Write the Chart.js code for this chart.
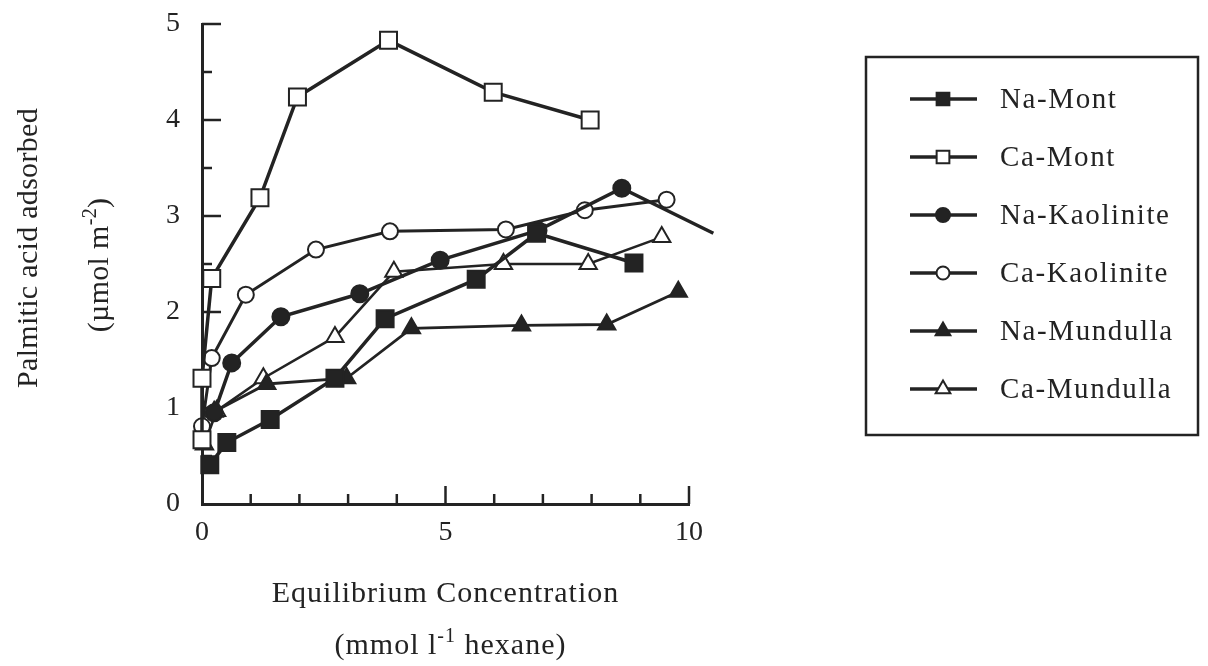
<!DOCTYPE html>
<html>
<head>
<meta charset="utf-8">
<title>Palmitic acid adsorbed</title>
<script src="https://cdn.jsdelivr.net/npm/chart.js@4.4.1/dist/chart.umd.min.js"></script>
<style>
    html, body { margin: 0; padding: 0; background: #fff; }
</style>
</head>
<body>
<canvas id="adsorcionChart" width="1208" height="666"></canvas>
<script>
// Series y valores (concentración de equilibrio vs. ácido adsorbido)
const nombresSeries = ['Na-Mont', 'Ca-Mont', 'Na-Kaolinite', 'Ca-Kaolinite', 'Na-Mundulla', 'Ca-Mundulla'];

const naMontX = [0.16, 0.51, 1.40, 2.73, 3.76, 5.63, 6.87, 8.87];
const naMontY = [0.41, 0.64, 0.88, 1.31, 1.93, 2.34, 2.82, 2.51];

const caMontX = [0.0, 0.0, 0.2, 1.19, 1.96, 3.83, 5.98, 7.97];
const caMontY = [0.67, 1.31, 2.35, 3.19, 4.24, 4.83, 4.29, 4.00];

const naKaolX = [0.25, 0.61, 1.62, 3.24, 4.89, 6.90, 8.62, 10.50];
const naKaolY = [0.95, 1.47, 1.95, 2.19, 2.54, 2.85, 3.29, 2.82];

const caKaolX = [0.0, 0.2, 0.9, 2.34, 3.86, 6.24, 7.86, 9.54];
const caKaolY = [0.81, 1.52, 2.18, 2.65, 2.84, 2.86, 3.06, 3.17];

const naMundX = [0.25, 1.33, 2.97, 4.30, 6.56, 8.31, 9.78];
const naMundY = [0.96, 1.25, 1.31, 1.83, 1.86, 1.87, 2.21];

const caMundX = [0.05, 0.30, 1.26, 2.73, 3.94, 6.19, 7.93, 9.44];
const caMundY = [0.62, 0.97, 1.31, 1.74, 2.42, 2.50, 2.50, 2.78];

const xTicks = [0, 5, 10];
const yTicks = [0, 1, 2, 3, 4, 5];

const datosX = [naMontX, caMontX, naKaolX, caKaolX, naMundX, caMundX];
const datosY = [naMontY, caMontY, naKaolY, caKaolY, naMundY, caMundY];

const FUENTE = '"Liberation Serif", "Times New Roman", serif';
const NEGRO = '#232323';

// Estilo de marcador de cada serie (relleno = sodio, hueco = calcio)
const marcadores = [
    { forma: 'rect', radio: 12, relleno: NEGRO, legenda: 9 },
    { forma: 'rect', radio: 12, relleno: '#fff', legenda: 9 },
    { forma: 'circle', radio: 8.5, relleno: NEGRO, legenda: 7 },
    { forma: 'circle', radio: 8, relleno: '#fff', legenda: 6.5 },
    { forma: 'triangle', radio: 10, relleno: NEGRO, legenda: 8.5 },
    { forma: 'triangle', radio: 10, relleno: '#fff', legenda: 8.5 }
];
const grosorLinea = [3.5, 3.5, 3.5, 3, 2.8, 2.6];

function puntos(xs, ys) {
    return xs.map(function(x, i) { return { x: x, y: ys[i] }; });
}

function dibujarMarcador(ctx, forma, x, y, r) {
    ctx.beginPath();
    if (forma === 'rect') {
        const h = r * Math.SQRT1_2;
        ctx.rect(x - h, y - h, 2 * h, 2 * h);
    } else if (forma === 'circle') {
        ctx.arc(x, y, r, 0, Math.PI * 2);
    } else {
        ctx.moveTo(x, y - r);
        ctx.lineTo(x + r * 0.866, y + r / 2);
        ctx.lineTo(x - r * 0.866, y + r / 2);
        ctx.closePath();
    }
    ctx.fill();
    ctx.stroke();
}

// Texto centrado con exponente: partes = [[texto, esExponente], ...]
function textoConExponente(ctx, partes, x, y, tam, tamExp, subida) {
    let total = 0;
    partes.forEach(function(p) {
        ctx.font = (p[1] ? tamExp : tam) + 'px ' + FUENTE;
        total += ctx.measureText(p[0]).width;
    });
    let cx = x - total / 2;
    partes.forEach(function(p) {
        ctx.font = (p[1] ? tamExp : tam) + 'px ' + FUENTE;
        ctx.fillText(p[0], cx, p[1] ? y - subida : y);
        cx += ctx.measureText(p[0]).width;
    });
}

// Marcas de los ejes hacia dentro del área del gráfico
const marcasEjes = {
    id: 'marcasEjes',
    beforeDatasetsDraw(chart) {
        const ctx = chart.ctx;
        const xs = chart.scales.x;
        const ys = chart.scales.y;
        ctx.save();
        ctx.strokeStyle = NEGRO;
        ctx.lineWidth = 2.5;
        for (let v = 0.5; v <= 5; v += 0.5) {
            const py = ys.getPixelForValue(v);
            const largo = Number.isInteger(v) ? 19 : 10;
            ctx.beginPath();
            ctx.moveTo(xs.left, py);
            ctx.lineTo(xs.left + largo, py);
            ctx.stroke();
        }
        for (let v = 1; v <= 10; v++) {
            const px = xs.getPixelForValue(v);
            const largo = v % 5 === 0 ? 18 : 10;
            ctx.beginPath();
            ctx.moveTo(px, ys.bottom);
            ctx.lineTo(px, ys.bottom - largo);
            ctx.stroke();
        }
        ctx.restore();
    }
};

// Títulos de ejes y leyenda con recuadro
const textosExtra = {
    id: 'textosExtra',
    afterDraw(chart) {
        const ctx = chart.ctx;
        const area = chart.chartArea;
        const centroX = (area.left + area.right) / 2;
        ctx.save();
        ctx.fillStyle = NEGRO;
        ctx.textBaseline = 'alphabetic';
        ctx.textAlign = 'left';

        // Eje X
        ctx.letterSpacing = '1px';
        textoConExponente(ctx, [['Equilibrium Concentration', false]], centroX, 602, 30, 20, 0);
        textoConExponente(ctx, [['(mmol l', false], ['-1', true], [' hexane)', false]], centroX + 5, 654, 30, 20, 12);

        // Eje Y (texto girado)
        ctx.letterSpacing = '0.3px';
        ctx.save();
        ctx.translate(37, 248);
        ctx.rotate(-Math.PI / 2);
        textoConExponente(ctx, [['Palmitic acid adsorbed', false]], 0, 0, 30, 20, 0);
        ctx.restore();
        ctx.save();
        ctx.translate(108, 265);
        ctx.rotate(-Math.PI / 2);
        textoConExponente(ctx, [['(\u00b5mol m', false], ['-2', true], [')', false]], 0, 0, 30, 20, 12);
        ctx.restore();

        // Leyenda
        ctx.strokeStyle = NEGRO;
        ctx.lineWidth = 2.5;
        ctx.strokeRect(866, 57, 332, 378);
        ctx.letterSpacing = '1.6px';
        ctx.font = '29px ' + FUENTE;
        ctx.textBaseline = 'middle';
        nombresSeries.forEach(function(nombre, i) {
            const y = 99 + 58 * i;
            const m = marcadores[i];
            ctx.lineWidth = 3.5;
            ctx.beginPath();
            ctx.moveTo(910, y);
            ctx.lineTo(977, y);
            ctx.stroke();
            ctx.lineWidth = 2;
            ctx.fillStyle = m.relleno;
            dibujarMarcador(ctx, m.forma, 943, y, m.legenda);
            ctx.fillStyle = NEGRO;
            ctx.fillText(nombre, 1000, y + 1);
        });
        ctx.restore();
    }
};

const ctx = document.getElementById('adsorcionChart').getContext('2d');

const adsorcionChart = new Chart(ctx, {
    type: 'scatter',
    data: {
        datasets: nombresSeries.map(function(nombre, i) {
            return {
                label: nombre,
                data: puntos(datosX[i], datosY[i]),
                showLine: true,
                clip: false,
                borderColor: NEGRO,
                borderWidth: grosorLinea[i],
                tension: 0,
                pointStyle: marcadores[i].forma,
                pointRadius: marcadores[i].radio,
                pointBackgroundColor: marcadores[i].relleno,
                pointBorderColor: NEGRO,
                pointBorderWidth: 2
            };
        })
    },
    options: {
        responsive: false,
        animation: false,
        layout: {
            padding: { left: 0, right: 519, top: 24, bottom: 0 }
        },
        plugins: {
            legend: { display: false },
            tooltip: { enabled: false }
        },
        scales: {
            x: {
                type: 'linear',
                min: 0,
                max: 10,
                afterBuildTicks: function(scale) {
                    scale.ticks = xTicks.map(function(v) { return { value: v }; });
                },
                afterFit: function(scale) {
                    // alto fijo para que el área del gráfico termine en y = 504
                    scale.height = 162;
                    scale.paddingLeft = 0;
                    scale.paddingRight = 0;
                },
                grid: { display: false, drawTicks: false },
                border: { display: true, color: NEGRO, width: 3 },
                ticks: {
                    font: { family: FUENTE, size: 28 },
                    color: NEGRO,
                    padding: 12,
                    maxRotation: 0,
                    callback: function(value) { return String(value); }
                }
            },
            y: {
                type: 'linear',
                min: 0,
                max: 5,
                afterBuildTicks: function(scale) {
                    scale.ticks = yTicks.map(function(v) { return { value: v }; });
                },
                afterFit: function(scale) {
                    scale.width = 202;
                    scale.paddingTop = 0; // sin margen extra arriba por la etiqueta "5"
                    scale.paddingBottom = 0;
                },
                grid: { display: false, drawTicks: false },
                border: { display: true, color: NEGRO, width: 3 },
                ticks: {
                    font: { family: FUENTE, size: 28 },
                    color: NEGRO,
                    padding: 22,
                    callback: function(value) { return String(value); }
                }
            }
        }
    },
    plugins: [marcasEjes, textosExtra]
});
</script>
</body>
</html>
